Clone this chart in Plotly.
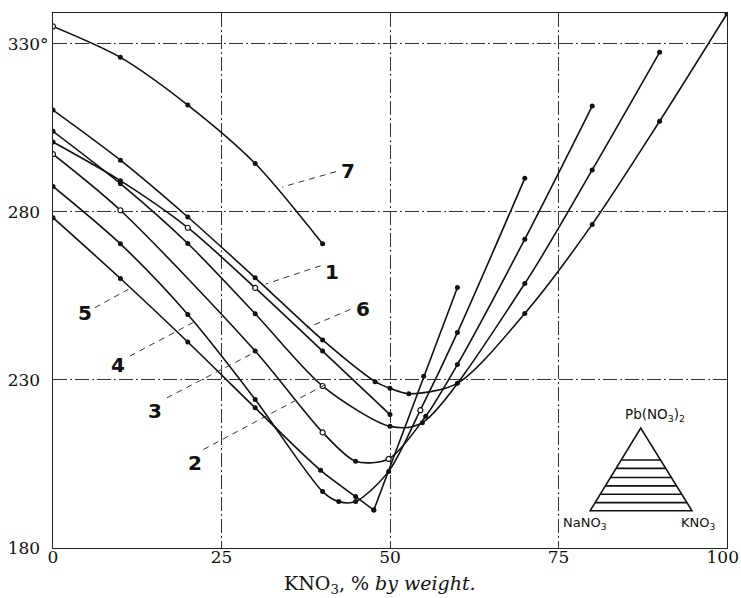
import plotly.graph_objects as go

# ---------------- data ----------------
# curve 1
c1_x = [0, 10, 20, 30, 40, 47.8, 50, 52.8, 60, 70, 80, 90, 100]
c1_y = [310.3, 295.4, 278.5, 260.4, 241.9, 229.5, 227.5, 225.9, 229, 249.8, 276.3, 307, 339]
# curve 2
c2_x = [0, 10, 20, 30, 40, 50, 54.8, 70, 80, 90]
c2_y = [304, 288.4, 270.6, 249.7, 228.2, 216.2, 217.3, 258.7, 292.5, 327.5]
# curve 3
c3_x = [0, 10, 30, 40, 44.9, 49.8, 55.3, 60, 70, 80]
c3_y = [297.2, 280.5, 238.6, 214.4, 205.8, 206.5, 219.2, 234.6, 271.9, 311.5]
# curve 4
c4_x = [0, 10, 20, 30, 40, 42.4, 44.9, 49.8, 54.5, 60, 70]
c4_y = [287.6, 270.5, 249.5, 224.2, 196.8, 193.8, 193.8, 202.8, 221, 244.1, 290]
# curve 5 (falling branch, then rising branch from the corner)
c5a_x = [0, 10, 20, 30, 39.7, 44.9, 47.6]
c5a_y = [278.3, 260.2, 241.3, 221.7, 203.1, 195.3, 191.3]
c5b_x = [47.6, 55, 60]
c5b_y = [191.3, 231.1, 257.5]
# curve 6
c6_x = [0, 10, 20, 30, 40, 50]
c6_y = [300.8, 289.3, 275.3, 257.4, 238.6, 219.7]
# curve 7
c7_x = [0, 10, 20, 30, 40]
c7_y = [335.2, 326, 311.8, 294.4, 270.5]

x_ticks = [0, 25, 50, 75, 100]
x_tick_text = ["0", "25", "50", "75", "100\u2002"]
y_ticks = [180, 230, 280, 330]
HIDE = "<span style='color:rgba(0,0,0,0)'>°</span>"
y_tick_text = ["180" + HIDE, "230" + HIDE, "280" + HIDE, "330°"]

# curve labels: (text, label x, label y, leader from x,y -> to x,y)
labels = [
    ("7", 43.7, 292.3, 42.0, 292.0, 34.0, 287.4),
    ("1", 41.4, 262.0, 39.7, 264.0, 31.5, 258.5),
    ("6", 46.0, 251.0, 44.1, 251.0, 37.6, 245.4),
    ("5", 4.8, 250.0, 6.2, 251.5, 11.2, 257.0),
    ("4", 9.7, 234.6, 11.4, 237.1, 20.8, 247.1),
    ("3", 15.2, 220.7, 16.9, 224.7, 30.3, 238.6),
    ("2", 21.1, 205.3, 22.3, 209.3, 40.2, 228.4),
]

# inset triangle (composition diagram)
INSET = dict(apex=(87.2, 215.7), base_y=191.1, base_x0=79.7, base_x1=94.8,
             stripes=[206.2, 203.7, 201.0, 198.5, 196.0, 193.5])

SERIF = "DejaVu Serif"
INK = "#111111"
GRIDDASH = "14px,3px,2px,3px"

fig = go.Figure()

def curve(xs, ys, open_idx=(), shape="spline"):
    fig.add_trace(go.Scatter(
        x=xs, y=ys, mode="lines", line=dict(color=INK, width=1.6, shape=shape, smoothing=0.8),
        hoverinfo="skip", showlegend=False))
    fx = [x for i, x in enumerate(xs) if i not in open_idx]
    fy = [y for i, y in enumerate(ys) if i not in open_idx]
    fig.add_trace(go.Scatter(x=fx, y=fy, mode="markers",
                             marker=dict(color=INK, size=5, symbol="circle"),
                             hoverinfo="skip", showlegend=False))
    if open_idx:
        ox = [xs[i] for i in open_idx]
        oy = [ys[i] for i in open_idx]
        fig.add_trace(go.Scatter(x=ox, y=oy, mode="markers",
                                 marker=dict(color="white", size=5, symbol="circle",
                                             line=dict(color=INK, width=1.2)),
                                 hoverinfo="skip", showlegend=False))

curve(c7_x, c7_y, open_idx=(0,))
curve(c1_x, c1_y)
curve(c2_x, c2_y, open_idx=(4,))
curve(c6_x, c6_y, open_idx=(2, 3))
curve(c3_x, c3_y, open_idx=(0, 1, 3, 5))
curve(c4_x, c4_y, open_idx=(8,))
curve(c5a_x, c5a_y)
fig.add_trace(go.Scatter(x=c5b_x, y=c5b_y, mode="lines+markers",
                         line=dict(color=INK, width=1.6),
                         marker=dict(color=INK, size=5),
                         hoverinfo="skip", showlegend=False))

shapes = []
annotations = []
for t, lx, ly, x0, y0, x1, y1 in labels:
    annotations.append(dict(x=lx, y=ly, xref="x", yref="y", text="<b>%s</b>" % t,
                            showarrow=False, font=dict(family="DejaVu Sans", size=20, color=INK)))
    shapes.append(dict(type="line", xref="x", yref="y", x0=x0, y0=y0, x1=x1, y1=y1,
                       line=dict(color="#333", width=1, dash="6px,5px")))

# inset triangle
ax_, ay_ = INSET["apex"]
by = INSET["base_y"]
bx0, bx1 = INSET["base_x0"], INSET["base_x1"]
shapes.append(dict(type="path", xref="x", yref="y",
                   path="M %f,%f L %f,%f L %f,%f Z" % (bx0, by, ax_, ay_, bx1, by),
                   line=dict(color=INK, width=1.6)))
for sy in INSET["stripes"]:
    f = (ay_ - sy) / (ay_ - by)
    shapes.append(dict(type="line", xref="x", yref="y",
                       x0=ax_ - (ax_ - bx0) * f, x1=ax_ + (bx1 - ax_) * f, y0=sy, y1=sy,
                       line=dict(color=INK, width=1.6)))
annotations += [
    dict(x=ax_ - 2.6, y=ay_ + 0.5, xref="x", yref="y", yanchor="bottom", xanchor="left",
         text="Pb(NO<sub>3</sub>)<sub>2</sub>", showarrow=False,
         font=dict(family="DejaVu Sans", size=13.5, color=INK)),
    dict(x=bx0 - 0.8, y=by - 0.6, xref="x", yref="y", yanchor="top",
         text="NaNO<sub>3</sub>", showarrow=False,
         font=dict(family="DejaVu Sans", size=13, color=INK)),
    dict(x=bx1 + 0.9, y=by - 0.6, xref="x", yref="y", yanchor="top",
         text="KNO<sub>3</sub>", showarrow=False,
         font=dict(family="DejaVu Sans", size=13, color=INK)),
    # x-axis title
    dict(x=0.485, y=-0.069, xref="paper", yref="paper", yanchor="middle", xanchor="center",
         text="KNO<sub>3</sub>, % <i>by weight.</i>", showarrow=False,
         font=dict(family=SERIF, size=19, color=INK)),
]

fig.update_layout(
    width=741, height=598,
    margin=dict(l=53, r=14, t=13, b=50),
    paper_bgcolor="white", plot_bgcolor="white",
    shapes=shapes, annotations=annotations,
    font=dict(family=SERIF, color=INK),
    xaxis=dict(range=[0, 100], tickvals=x_ticks, ticktext=x_tick_text,
               automargin=False, ticklabeloverflow="allow", ticklabelstandoff=-6,
               showgrid=True, gridcolor="#333", gridwidth=1, griddash=GRIDDASH,
               showline=True, linecolor="#222", linewidth=1, mirror=True,
               ticks="", tickfont=dict(family=SERIF, size=17, color=INK),
               zeroline=False),
    yaxis=dict(range=[180, 339.2], tickvals=y_ticks, ticktext=y_tick_text,
               automargin=False, ticklabeloverflow="allow",
               showgrid=True, gridcolor="#333", gridwidth=1, griddash=GRIDDASH,
               showline=True, linecolor="#222", linewidth=1, mirror=True,
               ticks="", tickfont=dict(family=SERIF, size=17, color=INK),
               zeroline=False),
)

fig.write_html("out.html", config={"displayModeBar": False},
               post_script="document.body.style.margin='0';")
